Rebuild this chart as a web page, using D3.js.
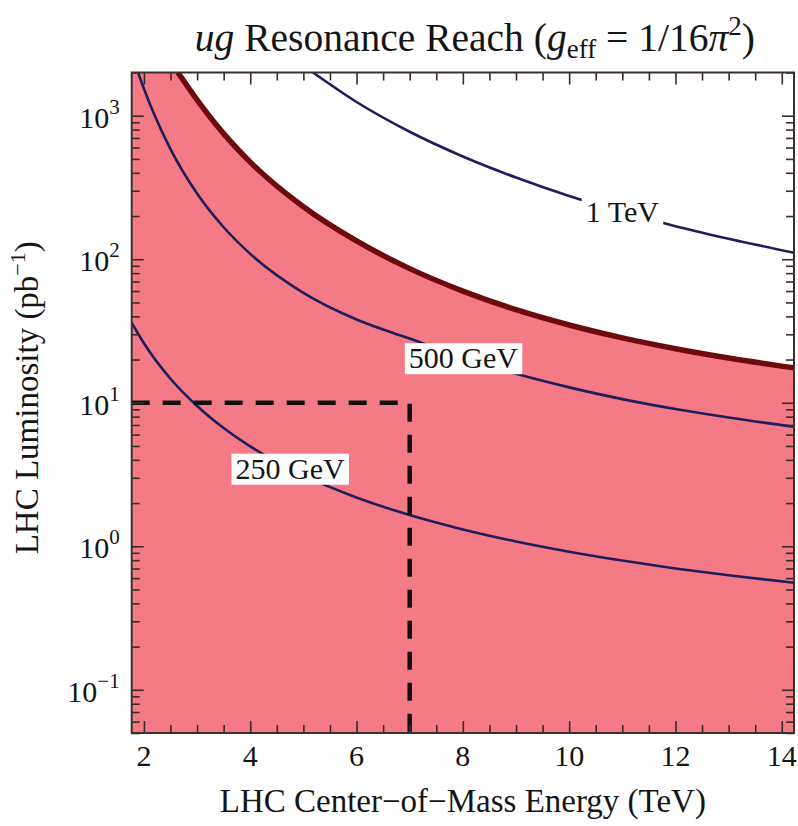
<!DOCTYPE html>
<html>
<head>
<meta charset="utf-8">
<script src="https://cdn.jsdelivr.net/npm/d3@7"></script>
<style>
  body { margin: 0; background: #fff; }
</style>
</head>
<body>
<svg id="chart" width="798" height="826" font-family="'Liberation Serif', 'Times New Roman', Times, serif"></svg>
<script>
// Axis ranges
const energyDomain = [1.77, 14.23];   // TeV
const lumiDomain = [0.05, 2000];      // pb^-1

// Reach boundary (edge of the shaded region)
const boundaryE = [2.64, 3, 3.5, 4, 5, 6, 7, 8, 9, 10, 11, 12, 13, 14.23];
const boundaryL = [2000, 1290, 750, 475, 232, 134, 86, 60, 44.5, 34.8, 28.3, 23.8, 20.5, 17.5];

// Mass contours
const tev1E = [5.18, 6, 7, 8, 9, 10, 11, 12, 13, 14.23];
const tev1L = [2000, 1246, 773, 520, 371, 276, 214, 170, 139, 111];

const gev500E = [1.89, 2, 2.5, 3, 3.5, 4, 5, 6, 7, 8, 9, 10, 11, 12, 13, 14.23];
const gev500L = [2000, 1541, 585, 287, 167, 109, 58.3, 38.0, 28.0, 20.6, 15.9, 12.8, 10.6, 9.04, 7.89, 6.8];

const gev250E = [1.77, 2, 2.5, 3, 3.5, 4, 5, 6, 7, 8, 9, 10, 11, 12, 13, 14.23];
const gev250L = [36, 26.0, 14.7, 9.49, 6.66, 4.96, 3.12, 2.19, 1.65, 1.31, 1.08, 0.917, 0.795, 0.701, 0.628, 0.557];

// Contour labels: text and where it sits on its curve
const labelText = ["1 TeV", "500 GeV", "250 GeV"];
const labelE = [11.0, 8.01, 4.75];
const labelL = [214, 20.6, 3.5];

// Ticks
const xTickValues = [2, 4, 6, 8, 10, 12, 14];
const yTickExponents = [-1, 0, 1, 2, 3];

// 7 TeV run with 10 pb^-1
const benchmarkE = 7;
const benchmarkL = 10;

const W = 798, H = 826;
const margin = { top: 72.5, right: 4, bottom: 93, left: 131.7 };
const innerW = W - margin.left - margin.right;
const innerH = H - margin.top - margin.bottom;
const ink = "#151515";

const svg = d3.select("#chart");
const g = svg.append("g").attr("transform", `translate(${margin.left},${margin.top})`);

const x = d3.scaleLinear().domain(energyDomain).range([0, innerW]);
const y = d3.scaleLog().domain(lumiDomain).range([innerH, 0]);

const zip = (es, ls) => es.map((e, i) => [e, ls[i]]);

svg.append("defs").append("clipPath").attr("id", "plotClip")
  .append("rect").attr("width", innerW).attr("height", innerH);

const plot = g.append("g").attr("clip-path", "url(#plotClip)");

// Shaded discovery region under the boundary
const areaData = [[energyDomain[0], lumiDomain[1]]].concat(zip(boundaryE, boundaryL));
plot.append("path")
  .datum(areaData)
  .attr("fill", "#f47b85")
  .attr("d", d3.area()
    .x(d => x(d[0]))
    .y0(innerH)
    .y1(d => y(d[1]))
    .curve(d3.curveMonotoneX));

const line = d3.line().x(d => x(d[0])).y(d => y(d[1])).curve(d3.curveMonotoneX);

// Mass contours
[[gev250E, gev250L], [gev500E, gev500L], [tev1E, tev1L]].forEach(([es, ls]) => {
  plot.append("path")
    .datum(zip(es, ls))
    .attr("fill", "none")
    .attr("stroke", "#1f1d5c")
    .attr("stroke-width", 2.6)
    .attr("d", line);
});

// Boundary line
plot.append("path")
  .datum(zip(boundaryE, boundaryL))
  .attr("fill", "none")
  .attr("stroke", "#6e0a0c")
  .attr("stroke-width", 5.5)
  .attr("d", line);

// Benchmark dashed lines
plot.append("path")
  .attr("fill", "none")
  .attr("stroke", "#111")
  .attr("stroke-width", 4.5)
  .attr("stroke-dasharray", "18,13")
  .attr("d", d3.line()([
    [x(energyDomain[0]), y(benchmarkL)],
    [x(benchmarkE), y(benchmarkL)],
    [x(benchmarkE), y(lumiDomain[0])]
  ]));

// Contour labels on white boxes
labelText.forEach((t, i) => {
  const cx = x(labelE[i]), cy = y(labelL[i]);
  const lg = g.append("g");
  const txt = lg.append("text")
    .attr("x", cx).attr("y", cy)
    .attr("text-anchor", "middle")
    .attr("dominant-baseline", "central")
    .attr("font-size", 30)
    .attr("fill", ink)
    .text(t);
  const bb = txt.node().getBBox();
  lg.insert("rect", "text")
    .attr("x", bb.x - 4).attr("y", bb.y + 2)
    .attr("width", bb.width + 8).attr("height", bb.height - 2)
    .attr("fill", "#fff");
});

// Frame ticks on all four sides
const majorLen = 12, minorLen = 8;
const xMinor = d3.range(2, 14.01, 0.5).filter(v => !xTickValues.includes(v));
const yMinor = [];
for (let k = -2; k <= 3; k++) for (let m = 2; m <= 9; m++) {
  const v = m * Math.pow(10, k);
  if (v >= lumiDomain[0] && v <= lumiDomain[1]) yMinor.push(v);
}
const yMajor = yTickExponents.map(e => Math.pow(10, e));

function styleAxis(sel) {
  sel.select(".domain").remove();
  sel.selectAll(".tick line").attr("stroke", "#3a2a2a").attr("stroke-width", 1.6);
}

g.append("g").attr("transform", `translate(0,${innerH})`)
  .call(d3.axisBottom(x).tickValues(xTickValues).tickSize(-majorLen).tickFormat(""))
  .call(styleAxis);
g.append("g").attr("transform", `translate(0,${innerH})`)
  .call(d3.axisBottom(x).tickValues(xMinor).tickSize(-minorLen).tickFormat(""))
  .call(styleAxis);
g.append("g")
  .call(d3.axisTop(x).tickValues(xTickValues).tickSize(-majorLen).tickFormat(""))
  .call(styleAxis);
g.append("g")
  .call(d3.axisTop(x).tickValues(xMinor).tickSize(-minorLen).tickFormat(""))
  .call(styleAxis);
g.append("g")
  .call(d3.axisLeft(y).tickValues(yMajor).tickSize(-majorLen).tickFormat(""))
  .call(styleAxis);
g.append("g")
  .call(d3.axisLeft(y).tickValues(yMinor).tickSize(-minorLen).tickFormat(""))
  .call(styleAxis);
g.append("g").attr("transform", `translate(${innerW},0)`)
  .call(d3.axisRight(y).tickValues(yMajor).tickSize(-majorLen).tickFormat(""))
  .call(styleAxis);
g.append("g").attr("transform", `translate(${innerW},0)`)
  .call(d3.axisRight(y).tickValues(yMinor).tickSize(-minorLen).tickFormat(""))
  .call(styleAxis);

// Frame
g.append("rect")
  .attr("width", innerW).attr("height", innerH)
  .attr("fill", "none").attr("stroke", "#3a3030").attr("stroke-width", 2);

// X tick labels
g.append("g").selectAll("text").data(xTickValues).join("text")
  .attr("x", d => x(d)).attr("y", innerH + 33)
  .attr("text-anchor", "middle")
  .attr("font-size", 30)
  .attr("fill", ink)
  .text(d => d);

// Y tick labels: 10^k
const yl = g.append("g").selectAll("text").data(yTickExponents).join("text")
  .attr("x", -12).attr("y", d => y(Math.pow(10, d)) + 12)
  .attr("text-anchor", "end")
  .attr("font-size", 30)
  .attr("fill", ink);
yl.append("tspan").text("10");
yl.append("tspan").attr("dy", -14).attr("font-size", 21)
  .text(d => d < 0 ? "\u2212" + Math.abs(d) : String(d));

// Axis titles
svg.append("text")
  .attr("x", margin.left + innerW / 2).attr("y", 812)
  .attr("text-anchor", "middle")
  .attr("font-size", 33)
  .attr("fill", ink)
  .text("LHC Center\u2212of\u2212Mass Energy (TeV)");

const yt = svg.append("text")
  .attr("transform", `translate(38,${margin.top + innerH / 2 - 5}) rotate(-90)`)
  .attr("text-anchor", "middle")
  .attr("font-size", 33)
  .attr("fill", ink);
yt.append("tspan").text("LHC Luminosity (pb");
yt.append("tspan").attr("dy", -13).attr("font-size", 22).text("\u22121");
yt.append("tspan").attr("dy", 13).text(")");

// Title
const title = svg.append("text")
  .attr("x", margin.left + innerW / 2 + 12).attr("y", 51)
  .attr("text-anchor", "middle")
  .attr("font-size", 39.5)
  .attr("fill", ink);
title.append("tspan").attr("font-style", "italic").text("ug");
title.append("tspan").text(" Resonance Reach (");
title.append("tspan").attr("font-style", "italic").text("g");
title.append("tspan").attr("dy", 7).attr("font-size", 27).text("eff");
title.append("tspan").attr("dy", -7).text(" = 1/16");
title.append("tspan").attr("font-style", "italic").text("\u03c0");
title.append("tspan").attr("dy", -16).attr("font-size", 27).text("2");
title.append("tspan").attr("dy", 16).text(")");
</script>
</body>
</html>
